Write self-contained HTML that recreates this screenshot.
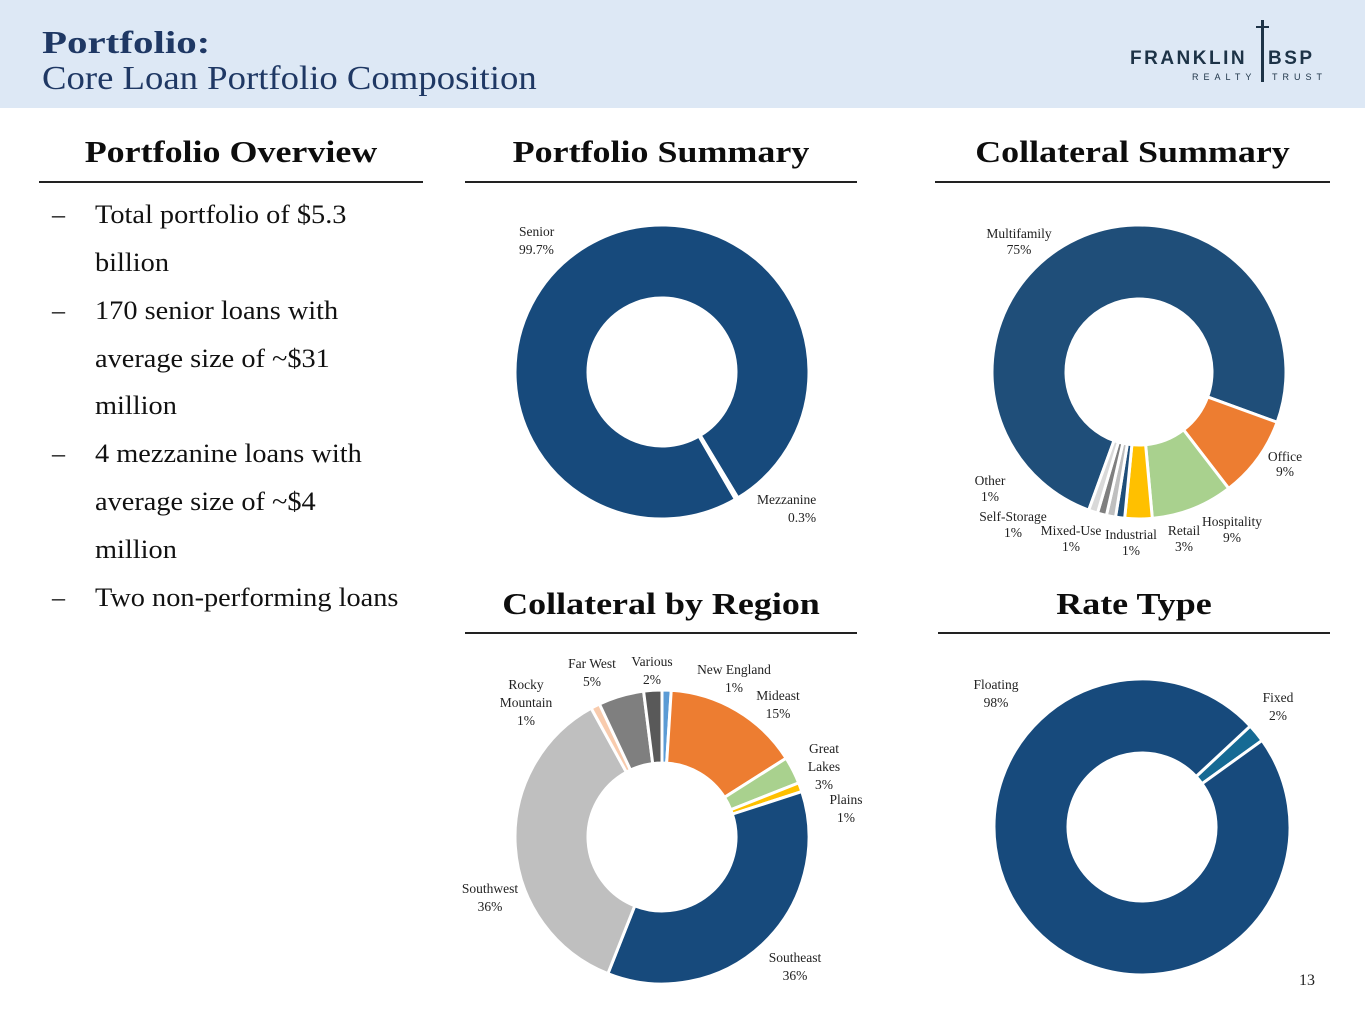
<!DOCTYPE html>
<html><head><meta charset="utf-8"><style>
body{margin:0;width:1365px;height:1024px;background:#fff;position:relative;overflow:hidden;font-family:"Liberation Serif",serif;}
.hdr{position:absolute;left:0;top:0;width:1365px;height:108px;background:#dde8f5;}
.t1{position:absolute;left:42px;top:24px;font-size:32px;font-weight:bold;color:#1f3864;transform:scaleX(1.28);transform-origin:left;}
.t2{position:absolute;left:42px;top:60px;font-size:34px;color:#1f3864;transform:scaleX(1.08);transform-origin:left;white-space:nowrap;}
.sec{position:absolute;font-size:31px;font-weight:bold;color:#0d0d0d;text-align:center;transform:scaleX(1.16);}
.rule{position:absolute;height:2px;background:#222;}
.bul{position:absolute;left:52px;font-size:26px;color:#111;}
.bul span{position:absolute;left:43px;white-space:nowrap;transform:scaleX(1.09);transform-origin:left;}
svg text{font-family:"Liberation Serif",serif;font-size:13.5px;fill:#222;}
</style></head><body>
<div class="hdr"></div>
<div class="t1">Portfolio:</div>
<div class="t2">Core Loan Portfolio Composition</div>
<div style="position:absolute;left:1130px;top:18px;width:220px;height:70px;font-family:'Liberation Sans',sans-serif;color:#1d3347;">
 <div style="position:absolute;left:0;top:30px;font-size:19px;font-weight:bold;letter-spacing:2.5px;">FRANKLIN</div>
 <div style="position:absolute;left:138px;top:30px;font-size:19px;font-weight:bold;letter-spacing:2.5px;">BSP</div>
 <div style="position:absolute;left:131px;top:2px;width:3px;height:62px;background:#1d3347;"></div>
 <div style="position:absolute;left:126px;top:8px;width:13px;height:2px;background:#1d3347;"></div>
 <div style="position:absolute;left:62px;top:54px;font-size:9px;letter-spacing:5px;">REALTY</div>
 <div style="position:absolute;left:142px;top:54px;font-size:9px;letter-spacing:5px;">TRUST</div>
</div>

<div class="sec" style="left:40px;top:134px;width:382px;">Portfolio Overview</div>
<div class="rule" style="left:39px;top:181px;width:384px;"></div>
<div class="sec" style="left:465px;top:134px;width:392px;">Portfolio Summary</div>
<div class="rule" style="left:465px;top:181px;width:392px;"></div>
<div class="sec" style="left:935px;top:134px;width:395px;">Collateral Summary</div>
<div class="rule" style="left:935px;top:181px;width:395px;"></div>
<div class="sec" style="left:465px;top:586px;width:392px;">Collateral by Region</div>
<div class="rule" style="left:465px;top:632px;width:392px;"></div>
<div class="sec" style="left:938px;top:586px;width:392px;">Rate Type</div>
<div class="rule" style="left:938px;top:632px;width:392px;"></div>

<div>
<div class="bul" style="top:200px;">–<span>Total portfolio of $5.3</span></div>
<div class="bul" style="top:248px;"><span>billion</span></div>
<div class="bul" style="top:296px;">–<span>170 senior loans with</span></div>
<div class="bul" style="top:344px;"><span>average size of ~$31</span></div>
<div class="bul" style="top:391px;"><span>million</span></div>
<div class="bul" style="top:439px;">–<span>4 mezzanine loans with</span></div>
<div class="bul" style="top:487px;"><span>average size of ~$4</span></div>
<div class="bul" style="top:535px;"><span>million</span></div>
<div class="bul" style="top:583px;">–<span>Two non-performing loans</span></div>
</div>

<svg id="ch" width="1365" height="1024" style="position:absolute;left:0;top:0;">
<g id="g1"></g><g id="g2"></g><g id="g3"></g><g id="g4"></g>
<text x="519" y="236">Senior</text>
<text x="519" y="254">99.7%</text>
<text x="757" y="504">Mezzanine</text>
<text x="788" y="522">0.3%</text>

<g font-size="12.5">
<text x="1019" y="238" text-anchor="middle">Multifamily</text><text x="1019" y="254" text-anchor="middle">75%</text>
<text x="1285" y="461" text-anchor="middle">Office</text><text x="1285" y="476" text-anchor="middle">9%</text>
<text x="1232" y="526" text-anchor="middle">Hospitality</text><text x="1232" y="542" text-anchor="middle">9%</text>
<text x="1184" y="535" text-anchor="middle">Retail</text><text x="1184" y="551" text-anchor="middle">3%</text>
<text x="1131" y="539" text-anchor="middle">Industrial</text><text x="1131" y="555" text-anchor="middle">1%</text>
<text x="1071" y="535" text-anchor="middle">Mixed-Use</text><text x="1071" y="551" text-anchor="middle">1%</text>
<text x="1013" y="521" text-anchor="middle">Self-Storage</text><text x="1013" y="537" text-anchor="middle">1%</text>
<text x="990" y="485" text-anchor="middle">Other</text><text x="990" y="501" text-anchor="middle">1%</text>
</g>
<g>
<text x="592" y="668" text-anchor="middle">Far West</text><text x="592" y="686" text-anchor="middle">5%</text>
<text x="652" y="666" text-anchor="middle">Various</text><text x="652" y="684" text-anchor="middle">2%</text>
<text x="734" y="674" text-anchor="middle">New England</text><text x="734" y="692" text-anchor="middle">1%</text>
<text x="778" y="700" text-anchor="middle">Mideast</text><text x="778" y="718" text-anchor="middle">15%</text>
<text x="824" y="753" text-anchor="middle">Great</text><text x="824" y="771" text-anchor="middle">Lakes</text><text x="824" y="789" text-anchor="middle">3%</text>
<text x="846" y="804" text-anchor="middle">Plains</text><text x="846" y="822" text-anchor="middle">1%</text>
<text x="795" y="962" text-anchor="middle">Southeast</text><text x="795" y="980" text-anchor="middle">36%</text>
<text x="490" y="893" text-anchor="middle">Southwest</text><text x="490" y="911" text-anchor="middle">36%</text>
<text x="526" y="689" text-anchor="middle">Rocky</text><text x="526" y="707" text-anchor="middle">Mountain</text><text x="526" y="725" text-anchor="middle">1%</text>
</g>
<g>
<text x="996" y="689" text-anchor="middle">Floating</text><text x="996" y="707" text-anchor="middle">98%</text>
<text x="1278" y="702" text-anchor="middle">Fixed</text><text x="1278" y="720" text-anchor="middle">2%</text>
</g>
<text x="1307" y="985" text-anchor="middle" style="font-size:16px">13</text>
</svg>
<script>
const summaryCats=["Senior","Mezzanine"];
const summaryVals=[99.7,0.3];
const collCats=["Multifamily","Office","Hospitality","Retail","Industrial","Mixed-Use","Self-Storage","Other"];
const collVals=[75,9,9,3,1,1,1,1];
const regionCats=["New England","Mideast","Great Lakes","Plains","Southeast","Southwest","Rocky Mountain","Far West","Various"];
const regionVals=[1,15,3,1,36,36,1,5,2];
const rateCats=["Fixed","Floating"];
const rateVals=[2,98];
const NS="http://www.w3.org/2000/svg";
function pt(cx,cy,r,a){const t=(a-90)*Math.PI/180;return [cx+r*Math.cos(t),cy+r*Math.sin(t)];}
function donut(gid,cats,vals,colors,cx,cy,ro,ri,start){
  const g=document.getElementById(gid);const tot=vals.reduce((a,b)=>a+b,0);let a=start;
  vals.forEach((v,i)=>{const sw=v/tot*360;const a2=a+sw;const lg=sw>180?1:0;
    const p1=pt(cx,cy,ro,a),p2=pt(cx,cy,ro,a2),p3=pt(cx,cy,ri,a2),p4=pt(cx,cy,ri,a);
    const p=document.createElementNS(NS,'path');
    p.setAttribute('d',`M${p1}A${ro},${ro} 0 ${lg} 1 ${p2}L${p3}A${ri},${ri} 0 ${lg} 0 ${p4}Z`);
    p.setAttribute('fill',colors[i]);p.setAttribute('stroke','#fff');p.setAttribute('stroke-width','3');
    
    
    g.appendChild(p);a=a2;});
}
donut('g1',summaryCats,summaryVals,['#174a7c','#174a7c'],662,372,147,74,150);
donut('g2',collCats,collVals,['#1f4e79','#ed7d31','#a9d18e','#ffc000','#1f4e79','#bfbfbf','#7f7f7f','#d9d9d9'],1139,372,147,73,200);
donut('g3',regionCats,regionVals,['#5b9bd5','#ed7d31','#a9d18e','#ffc000','#174a7c','#bfbfbf','#f8cbad','#7f7f7f','#595959'],662,837,147,74,0);
donut('g4',rateCats,rateVals,['#166a94','#174a7c'],1142,827,148,74,47);
</script>
</body></html>
